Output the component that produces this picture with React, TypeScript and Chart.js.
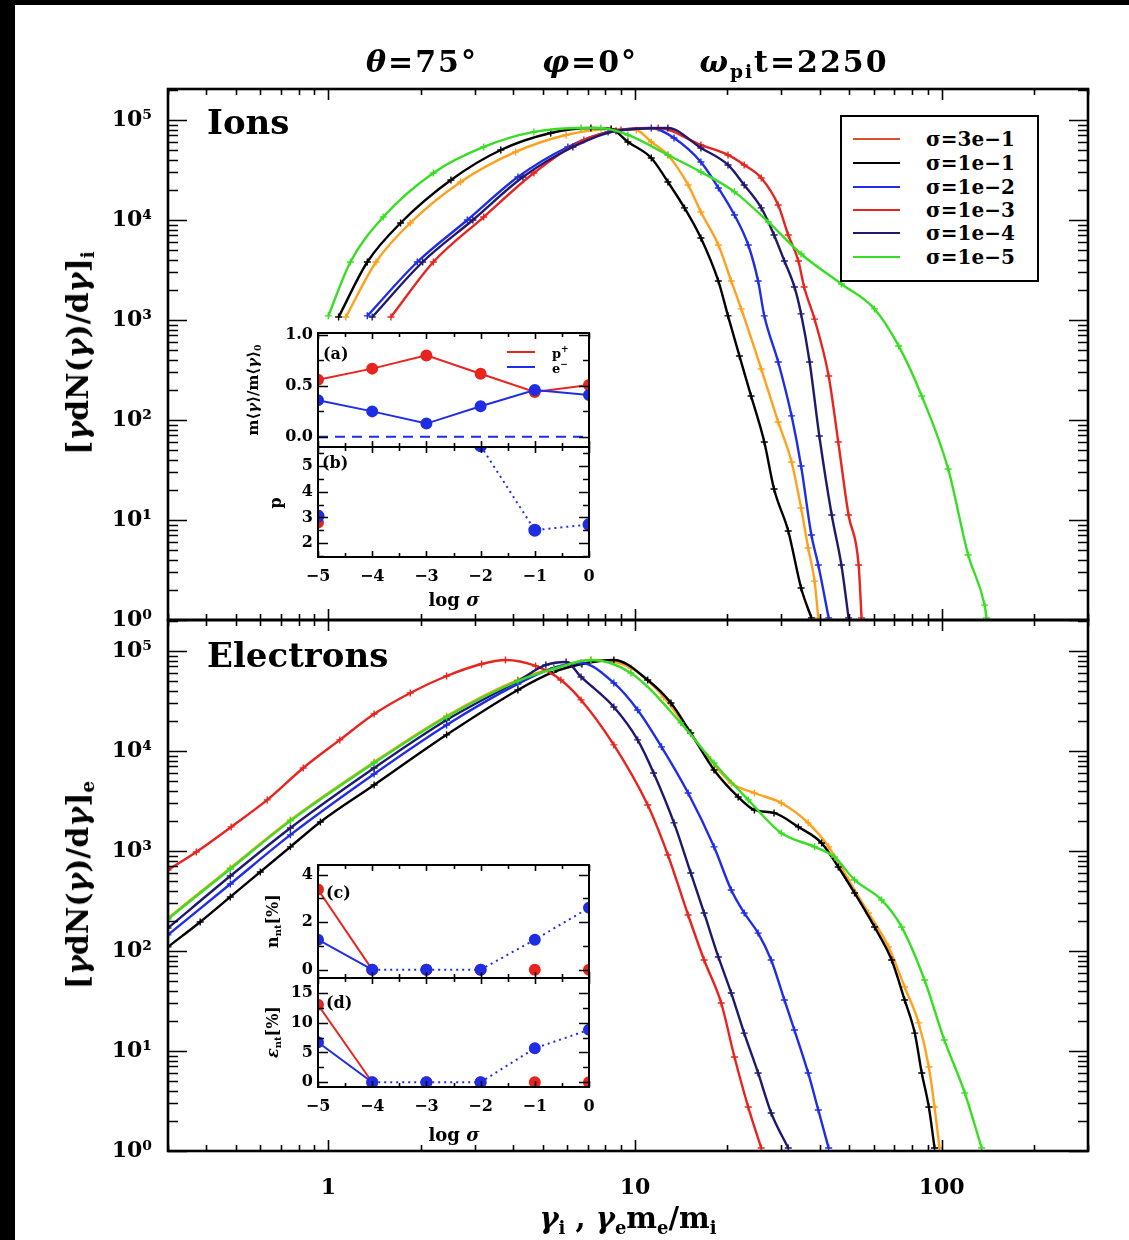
import React, { useEffect, useRef } from 'react';
import { Chart, registerables } from 'chart.js';

Chart.register(...registerables);

const W = 1129;
const H = 1240;
const FONT = "'DejaVu Serif', 'Liberation Serif', serif";

// ---------------- legend / series ----------------
const sigmaLabels = ['σ=3e−1', 'σ=1e−1', 'σ=1e−2', 'σ=1e−3', 'σ=1e−4', 'σ=1e−5'];
const sigmaColors = ['#ffa01e', '#000000', '#1f2ee4', '#e8241e', '#20186e', '#38de24'];
const legendLineColors = ['#d9502e', '#000000', '#1f2ee4', '#e8241e', '#20186e', '#38de24'];

// ---------------- ions (top panel) ----------------
const ionX_3e1 = [1.14, 1.43, 1.85, 2.7, 4.08, 5.96, 8.36, 10.1, 11.3, 12.8, 14.9, 16.4, 18.7, 20.6, 22.2, 25.8, 29.3, 32.4, 34.8, 36.7, 38.5, 39.6];
const ionY_3e1 = [1070, 3800, 9330, 24000, 47900, 70800, 81300, 79400, 60300, 44700, 22400, 12000, 5620, 2450, 1290, 324, 95.5, 38.0, 13.2, 5.25, 2.45, 1.05];
const ionX_1e1 = [1.08, 1.34, 1.72, 2.51, 3.65, 5.31, 7.18, 8.36, 9.48, 11.3, 12.8, 14.5, 16.4, 18.7, 20.1, 21.9, 23.9, 26.4, 28.4, 31.6, 34.8, 37.6];
const ionY_1e1 = [1070, 3800, 9330, 25100, 50100, 74100, 83200, 81300, 60300, 41700, 24000, 13200, 6610, 2450, 1100, 437, 174, 60.3, 20.4, 7.76, 2.09, 1.05];
const ionX_1e2 = [1.34, 1.95, 2.84, 4.15, 6.04, 8.17, 11.3, 13.4, 16.4, 18.7, 21.1, 23.4, 25.2, 26.4, 29.3, 32.4, 34.8, 37.6, 39.6, 42.8];
const ionY_1e2 = [1100, 3800, 10000, 26900, 53700, 75900, 83200, 66100, 38000, 20900, 11200, 5620, 2450, 1100, 380, 110, 34.7, 7.08, 3.55, 1.05];
const ionX_1e3 = [1.6, 2.2, 3.21, 4.68, 6.81, 9.0, 11.9, 16.4, 20.1, 22.7, 25.8, 29.3, 31.6, 34.1, 35.6, 38.5, 42.8, 46.0, 49.7, 53.6, 54.8];
const ionY_1e3 = [1070, 3800, 10700, 29500, 63100, 79400, 83200, 56200, 44700, 35500, 26300, 14100, 7080, 3890, 2140, 1020, 275, 60.3, 11.2, 3.55, 1.05];
const ionX_1e4 = [1.39, 2.03, 2.96, 4.31, 6.27, 8.67, 12.8, 16.4, 20.1, 22.7, 25.8, 28.4, 30.7, 33.1, 34.8, 37.1, 39.9, 43.8, 47.1, 49.7];
const ionY_1e4 = [1070, 3800, 10000, 26900, 53700, 77600, 83200, 52500, 35500, 22400, 13200, 7080, 3890, 2140, 1150, 380, 69.2, 11.2, 3.55, 1.05];
const ionX_1e5 = [1.0, 1.18, 1.51, 2.2, 3.21, 4.68, 6.67, 7.74, 9.48, 12.8, 16.4, 21.1, 27.2, 34.8, 47.1, 60.4, 72.4, 86.1, 105, 122, 138, 140];
const ionY_1e5 = [1100, 3800, 10700, 29500, 53700, 75900, 83200, 83200, 70800, 44700, 30200, 19100, 9550, 4570, 2290, 1290, 550, 174, 32.4, 4.47, 1.41, 1.05];

// ---------------- electrons (bottom panel) ----------------
const eleX_3e1 = [0.3, 0.479, 0.752, 1.41, 2.43, 4.15, 5.43, 7.18, 9.7, 12.4, 14.9, 17.3, 20.6, 24.5, 30.0, 36.7, 42.8, 49.7, 57.7, 67.1, 75.7, 84.1, 90.8, 94.8, 98.4];
const eleY_3e1 = [214, 676, 2040, 7760, 22400, 51300, 67600, 81300, 67600, 34700, 16200, 8710, 4790, 3800, 3020, 1910, 1100, 513, 240, 110, 43.7, 19.1, 6.92, 2.75, 1.07];
const eleX_1e1 = [0.3, 0.382, 0.479, 0.6, 0.752, 0.942, 1.41, 2.43, 4.15, 5.43, 6.71, 8.53, 11.0, 13.1, 15.2, 18.1, 21.7, 24.5, 28.4, 34.1, 40.6, 46.0, 52.0, 60.4, 68.7, 75.7, 81.7, 86.1, 90.8, 94.8];
const eleY_1e1 = [110, 195, 347, 617, 1100, 1950, 4570, 14500, 40700, 61700, 74100, 81300, 51300, 30200, 15100, 6460, 3470, 2570, 2400, 1740, 1200, 692, 380, 174, 81.3, 32.4, 15.1, 6.03, 2.75, 1.07];
const eleX_1e2 = [0.3, 0.479, 0.752, 1.41, 2.43, 4.15, 5.43, 6.67, 8.53, 10.2, 12.2, 14.9, 18.1, 20.6, 22.7, 25.2, 27.8, 30.7, 33.1, 36.7, 39.6, 42.8];
const eleY_1e2 = [145, 468, 1450, 5890, 18200, 46800, 67600, 75900, 47900, 25700, 11000, 3800, 1100, 407, 240, 151, 81.3, 32.4, 16.2, 6.03, 2.57, 1.07];
const eleX_1e3 = [0.3, 0.371, 0.482, 0.632, 0.828, 1.09, 1.41, 1.85, 2.43, 3.16, 3.78, 4.74, 5.73, 6.67, 8.53, 11.0, 12.8, 14.9, 16.8, 19.1, 21.1, 23.4, 25.8];
const eleY_1e3 = [646, 977, 1740, 3240, 6760, 12900, 23400, 38000, 56200, 74100, 81300, 70800, 51300, 32400, 11500, 2880, 912, 229, 81.3, 30.2, 8.71, 2.75, 1.07];
const eleX_1e4 = [0.3, 0.479, 0.752, 1.41, 2.43, 4.15, 5.12, 5.96, 6.67, 8.53, 10.2, 11.5, 13.4, 15.2, 16.8, 18.7, 20.6, 22.7, 25.2, 27.8, 31.6];
const eleY_1e4 = [170, 562, 1700, 6760, 20400, 50100, 72400, 77600, 55000, 27500, 12900, 6030, 1910, 603, 240, 87.1, 38.0, 15.1, 6.03, 2.4, 1.07];
const eleX_1e5 = [0.3, 0.479, 0.752, 1.41, 2.43, 4.15, 5.43, 7.18, 9.7, 14.1, 18.1, 23.4, 30.0, 38.5, 44.7, 52.0, 63.7, 74.0, 87.9, 102, 119, 135];
const eleY_1e5 = [209, 661, 2000, 7590, 21900, 50100, 66100, 81300, 60300, 19100, 7590, 3240, 1510, 1100, 871, 513, 324, 174, 51.3, 12.9, 3.8, 1.07];

// ---------------- insets (vs log sigma) ----------------
const logSigma = [-5, -4, -3, -2, -1, 0];
const meanRed = [0.56, 0.67, 0.8, 0.62, 0.44, 0.51];
const meanBlue = [0.36, 0.25, 0.13, 0.3, 0.46, 0.41];
const meanZero = [0, 0, 0, 0, 0, 0];
const pRed = [2.8, null, null, null, null, null];
const pBlue = [3.05, null, null, 5.8, 2.5, 2.72];
const nntRed = [3.37, 0, 0, 0, 0, 0];
const nntBlue = [1.26, 0, 0, 0, 1.26, 2.6];
const entRed = [13.0, 0, 0, 0, 0, 0];
const entBlue = [6.7, 0, 0, 0, 5.7, 8.8];
const insetRed = '#e8241e';
const insetBlue = '#1f2ee4';

// ---------------- axis ticks ----------------
const xMajorTicks = [1, 10, 100];
const yMajorTicks = [1, 10, 100, 1000, 10000, 100000];
const logMinors = (lo: number, hi: number, min: number, max: number) => {
  const out: number[] = [];
  for (let e = lo; e <= hi; e++) for (let m = 2; m <= 9; m++) {
    const v = m * Math.pow(10, e);
    if (v >= min && v <= max) out.push(v);
  }
  return out;
};
const xMinorTicks = logMinors(-1, 2, 0.3, 300);
const yMinorTicks = logMinors(0, 5, 1, 2.04e5);
const SUP = ['⁰', '¹', '²', '³', '⁴', '⁵'];
const sigmaMajor = [-5, -4, -3, -2, -1, 0];
const sigmaMinor = [-4.5, -3.5, -2.5, -1.5, -0.5];

type Area = { l: number; r: number; t: number; b: number };

function framePlugin(cfg: {
  fill?: string; frame: number; xMaj: number[]; xMin: number[]; yMaj: number[]; yMin: number[];
  xMajLen: number; xMinLen: number; yMajLen: number; yMinLen: number;
}) {
  return {
    id: 'idlFrame',
    beforeDraw(chart: any) {
      if (!cfg.fill) return;
      const { left, top, right, bottom } = chart.chartArea;
      const ctx = chart.ctx;
      ctx.save();
      ctx.fillStyle = cfg.fill;
      ctx.fillRect(left, top, right - left, bottom - top);
      ctx.restore();
    },
    afterDraw(chart: any) {
      const ctx = chart.ctx;
      const { left, top, right, bottom } = chart.chartArea;
      const xs = chart.scales.x;
      const ys = chart.scales.y;
      ctx.save();
      ctx.strokeStyle = '#000';
      ctx.lineWidth = 1.6;
      ctx.beginPath();
      const doX = (vals: number[], len: number) => {
        for (const v of vals) {
          const p = Math.round(xs.getPixelForValue(v)) + 0.5;
          if (p < left - 1 || p > right + 1) continue;
          ctx.moveTo(p, bottom); ctx.lineTo(p, bottom - len);
          ctx.moveTo(p, top); ctx.lineTo(p, top + len);
        }
      };
      const doY = (vals: number[], len: number) => {
        for (const v of vals) {
          const p = Math.round(ys.getPixelForValue(v)) + 0.5;
          if (p < top - 1 || p > bottom + 1) continue;
          ctx.moveTo(left, p); ctx.lineTo(left + len, p);
          ctx.moveTo(right, p); ctx.lineTo(right - len, p);
        }
      };
      doX(cfg.xMaj, cfg.xMajLen); doX(cfg.xMin, cfg.xMinLen);
      doY(cfg.yMaj, cfg.yMajLen); doY(cfg.yMin, cfg.yMinLen);
      ctx.stroke();
      ctx.lineWidth = cfg.frame;
      ctx.strokeRect(left, top, right - left, bottom - top);
      ctx.restore();
    },
  };
}

const pts = (xs: number[], ys: (number | null)[]) => xs.map((x, i) => ({ x, y: ys[i] }));

function curve(color: string, xs: number[], ys: number[]) {
  return {
    data: pts(xs, ys),
    borderColor: color,
    backgroundColor: color,
    borderWidth: 2.4,
    pointStyle: 'cross',
    pointRadius: 3.5,
    pointBorderWidth: 1.4,
    pointBorderColor: color,
    pointHoverRadius: 0,
    cubicInterpolationMode: 'monotone',
    fill: false,
  };
}

function mainConfig(area: Area, showX: boolean, series: { c: string; x: number[]; y: number[] }[]) {
  return {
    type: 'line',
    data: { datasets: series.map((s) => curve(s.c, s.x, s.y)) },
    options: {
      responsive: false,
      animation: false,
      devicePixelRatio: 1,
      events: [],
      layout: { padding: { left: 0, top: area.t, right: W - area.r, bottom: 0 } },
      plugins: { legend: { display: false }, tooltip: { enabled: false }, title: { display: false } },
      scales: {
        x: {
          type: 'logarithmic', min: 0.3, max: 300, position: 'bottom',
          grid: { display: false, drawTicks: false }, border: { display: false },
          ticks: {
            display: showX, padding: 24, color: '#000', maxRotation: 0, autoSkip: false,
            font: { family: FONT, size: 22, weight: 'bold' },
            callback: (v: number) => String(v),
          },
          afterBuildTicks: (s: any) => { s.ticks = xMajorTicks.map((v) => ({ value: v })); },
          afterFit: (s: any) => { s.height = H - area.b; },
        },
        y: {
          type: 'logarithmic', min: 1, max: 2.04e5, position: 'left',
          grid: { display: false, drawTicks: false }, border: { display: false },
          ticks: {
            padding: 16, color: '#000', autoSkip: false,
            font: { family: FONT, size: 22, weight: 'bold' },
            callback: (v: number) => '10' + SUP[Math.round(Math.log10(v))],
          },
          afterBuildTicks: (s: any) => { s.ticks = yMajorTicks.map((v) => ({ value: v })); },
          afterFit: (s: any) => { s.width = area.l; },
        },
      },
    },
    plugins: [framePlugin({
      frame: 2.6, xMaj: xMajorTicks, xMin: xMinorTicks, yMaj: yMajorTicks, yMin: yMinorTicks,
      xMajLen: 11, xMinLen: 6, yMajLen: 19, yMinLen: 10,
    })],
  };
}

function insetConfig(area: Area, showX: boolean, yMin: number, yMax: number, yMaj: number[], yMinT: number[],
  fmt: (v: number) => string, datasets: any[]) {
  return {
    type: 'line',
    data: { datasets },
    options: {
      responsive: false,
      animation: false,
      devicePixelRatio: 1,
      events: [],
      layout: { padding: { left: 0, top: area.t, right: W - area.r, bottom: 0 } },
      plugins: { legend: { display: false }, tooltip: { enabled: false }, title: { display: false } },
      scales: {
        x: {
          type: 'linear', min: -5, max: 0, position: 'bottom',
          grid: { display: false, drawTicks: false }, border: { display: false },
          ticks: {
            display: showX, padding: 10, color: '#000', maxRotation: 0, autoSkip: false,
            font: { family: FONT, size: 16, weight: 'bold' },
            callback: (v: number) => (v < 0 ? '−' + Math.abs(v) : '0'),
          },
          afterBuildTicks: (s: any) => { s.ticks = sigmaMajor.map((v) => ({ value: v })); },
          afterFit: (s: any) => { s.height = H - area.b; },
        },
        y: {
          type: 'linear', min: yMin, max: yMax, position: 'left',
          grid: { display: false, drawTicks: false }, border: { display: false },
          ticks: {
            padding: 5, color: '#000', autoSkip: false,
            font: { family: FONT, size: 16, weight: 'bold' },
            callback: (v: number) => fmt(v),
          },
          afterBuildTicks: (s: any) => { s.ticks = yMaj.map((v) => ({ value: v })); },
          afterFit: (s: any) => { s.width = area.l; },
        },
      },
    },
    plugins: [framePlugin({
      fill: '#ffffff', frame: 2, xMaj: sigmaMajor, xMin: sigmaMinor, yMaj, yMin: yMinT,
      xMajLen: 6, xMinLen: 4, yMajLen: 10, yMinLen: 6,
    })],
  };
}

function dots(color: string, ys: (number | null)[], extra: any = {}) {
  return {
    data: pts(logSigma, ys),
    borderColor: color,
    backgroundColor: color,
    pointBackgroundColor: color,
    pointBorderColor: color,
    borderWidth: 2,
    pointRadius: 5,
    pointHoverRadius: 0,
    pointStyle: 'circle',
    fill: false,
    ...extra,
  };
}

const topArea: Area = { l: 168, r: 1088, t: 89, b: 620 };
const botArea: Area = { l: 168, r: 1088, t: 620, b: 1151 };
const aArea: Area = { l: 318, r: 589, t: 333, b: 447 };
const bArea: Area = { l: 318, r: 589, t: 447, b: 557 };
const cArea: Area = { l: 318, r: 589, t: 865, b: 978 };
const dArea: Area = { l: 318, r: 589, t: 978, b: 1087 };

const dottedAfterFirst = { segment: { borderDash: (ctx: any) => (ctx.p0DataIndex >= 1 ? [2, 4] : undefined) } };
const hiddenAfterFirst = { segment: { borderColor: (ctx: any) => (ctx.p0DataIndex >= 1 ? 'rgba(0,0,0,0)' : insetRed) } };

const configs = [
  () => mainConfig(topArea, false, [
    { c: sigmaColors[5], x: ionX_1e5, y: ionY_1e5 },
    { c: sigmaColors[4], x: ionX_1e4, y: ionY_1e4 },
    { c: sigmaColors[3], x: ionX_1e3, y: ionY_1e3 },
    { c: sigmaColors[2], x: ionX_1e2, y: ionY_1e2 },
    { c: sigmaColors[1], x: ionX_1e1, y: ionY_1e1 },
    { c: sigmaColors[0], x: ionX_3e1, y: ionY_3e1 },
  ]),
  () => mainConfig(botArea, true, [
    { c: sigmaColors[5], x: eleX_1e5, y: eleY_1e5 },
    { c: sigmaColors[4], x: eleX_1e4, y: eleY_1e4 },
    { c: sigmaColors[3], x: eleX_1e3, y: eleY_1e3 },
    { c: sigmaColors[2], x: eleX_1e2, y: eleY_1e2 },
    { c: sigmaColors[1], x: eleX_1e1, y: eleY_1e1 },
    { c: sigmaColors[0], x: eleX_3e1, y: eleY_3e1 },
  ]),
  () => insetConfig(aArea, false, -0.1, 1.02, [0, 0.5, 1], [0.25, 0.75], (v) => v.toFixed(1), [
    dots(insetBlue, meanBlue),
    dots(insetRed, meanRed),
    { data: pts(logSigma, meanZero), borderColor: insetBlue, borderWidth: 2, borderDash: [10, 7], pointRadius: 0, fill: false },
  ]),
  () => insetConfig(bArea, true, 1.45, 5.75, [2, 3, 4, 5], [1.5, 2.5, 3.5, 4.5, 5.5], (v) => String(v), [
    dots(insetBlue, pBlue, { borderDash: [2, 4], pointRadius: 5.5 }),
    dots(insetRed, pRed),
  ]),
  () => insetConfig(cArea, false, -0.35, 4.4, [0, 2, 4], [1, 3], (v) => String(v), [
    dots(insetBlue, nntBlue, dottedAfterFirst),
    dots(insetRed, nntRed, hiddenAfterFirst),
  ]),
  () => insetConfig(dArea, true, -0.8, 17.5, [0, 5, 10, 15], [2.5, 7.5, 12.5], (v) => String(v), [
    dots(insetBlue, entBlue, dottedAfterFirst),
    dots(insetRed, entRed, hiddenAfterFirst),
  ]),
];

function ChartLayer({ make }: { make: () => any }) {
  const ref = useRef<HTMLCanvasElement>(null);
  useEffect(() => {
    const chart = new Chart(ref.current as HTMLCanvasElement, make());
    return () => chart.destroy();
  }, [make]);
  return (
    <canvas ref={ref} width={W} height={H}
      style={{ position: 'absolute', left: 0, top: 0, width: W, height: H, display: 'block' }} />
  );
}

const Sub = ({ children }: { children: React.ReactNode }) => (
  <span style={{ fontSize: '0.62em', position: 'relative', top: '0.32em' }}>{children}</span>
);

function T({ x, y, size, rot, left, children, style }: {
  x: number; y: number; size: number; rot?: number; left?: boolean; children: React.ReactNode; style?: React.CSSProperties;
}) {
  const tr = `translate(${left ? '0' : '-50%'},-50%)` + (rot ? ` rotate(${rot}deg)` : '');
  return (
    <div style={{
      position: 'absolute', left: x, top: y, transform: tr, fontFamily: FONT, fontWeight: 'bold',
      fontSize: size, lineHeight: 1, whiteSpace: 'nowrap', color: '#000', ...style,
    }}>{children}</div>
  );
}

export default function App() {
  const legendRows = [139, 163, 187, 210, 233, 257];
  return (
    <div style={{ position: 'absolute', left: 0, top: 0, width: W, height: H, background: '#000', overflow: 'hidden' }}>
      <div style={{ position: 'absolute', left: 15, top: 5, width: W - 15, height: H - 5, background: '#fff' }} />
      {configs.map((make, i) => <ChartLayer key={i} make={make} />)}

      {/* figure title */}
      <T x={422} y={62} size={30} style={{ letterSpacing: 2 }}><i>θ</i>=75°</T>
      <T x={590} y={62} size={30} style={{ letterSpacing: 2 }}><i>φ</i>=0°</T>
      <T x={794} y={62} size={30} style={{ letterSpacing: 2 }}><i>ω</i><Sub>pi</Sub>t=2250</T>

      {/* panel names */}
      <T x={207} y={122} size={34} left>Ions</T>
      <T x={207} y={655} size={34} left>Electrons</T>

      {/* axis titles */}
      <T x={78} y={353} size={30} rot={-90}>[<i>γ</i>dN(<i>γ</i>)/d<i>γ</i>]<Sub>i</Sub></T>
      <T x={78} y={885} size={30} rot={-90}>[<i>γ</i>dN(<i>γ</i>)/d<i>γ</i>]<Sub>e</Sub></T>
      <T x={628} y={1218} size={29}><i>γ</i><Sub>i</Sub> , <i>γ</i><Sub>e</Sub>m<Sub>e</Sub>/m<Sub>i</Sub></T>

      {/* legend */}
      <div style={{
        position: 'absolute', left: 840, top: 115, width: 199, height: 167, boxSizing: 'border-box',
        border: '2px solid #000', background: '#fff',
      }} />
      {sigmaLabels.map((lab, i) => (
        <React.Fragment key={lab}>
          <div style={{ position: 'absolute', left: 853, top: legendRows[i] - 1, width: 47, height: 2, background: legendLineColors[i] }} />
          <T x={926} y={legendRows[i]} size={20} left>{lab}</T>
        </React.Fragment>
      ))}

      {/* inset (a)/(b) texts */}
      <T x={323} y={354} size={16} left>(a)</T>
      <T x={322} y={463} size={16} left>(b)</T>
      <T x={253} y={390} size={15} rot={-90}>m⟨<i>γ</i>⟩/m⟨<i>γ</i>⟩<Sub>0</Sub></T>
      <T x={276} y={503} size={16} rot={-90}>p</T>
      <T x={454} y={600} size={18}>log <i>σ</i></T>
      <div style={{ position: 'absolute', left: 507, top: 351, width: 28, height: 2, background: insetRed }} />
      <div style={{ position: 'absolute', left: 507, top: 366, width: 28, height: 2, background: insetBlue }} />
      <T x={552} y={352} size={13} left>p<sup style={{ fontSize: '0.7em' }}>+</sup></T>
      <T x={552} y={367} size={13} left>e<sup style={{ fontSize: '0.7em' }}>−</sup></T>

      {/* inset (c)/(d) texts */}
      <T x={326} y={893} size={16} left>(c)</T>
      <T x={326} y={1003} size={16} left>(d)</T>
      <T x={273} y={921} size={16} rot={-90}>n<Sub>nt</Sub>[%]</T>
      <T x={273} y={1032} size={16} rot={-90}><i>ε</i><Sub>nt</Sub>[%]</T>
      <T x={454} y={1135} size={18}>log <i>σ</i></T>
    </div>
  );
}
